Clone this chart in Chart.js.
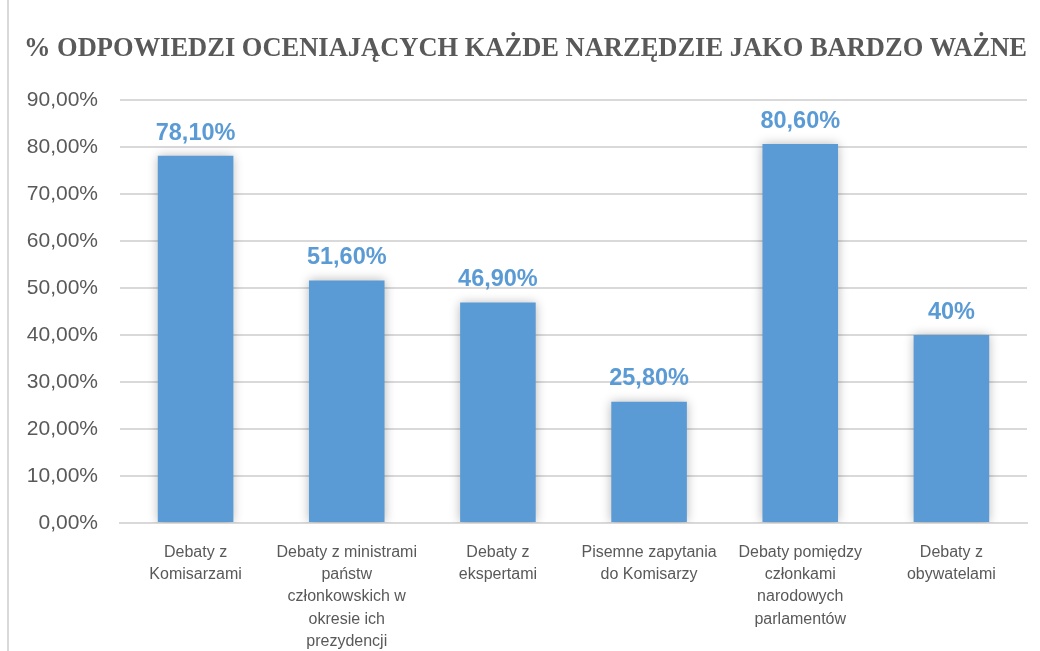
<!DOCTYPE html>
<html lang="pl">
<head>
    <meta charset="UTF-8">
    <title>% odpowiedzi oceniających każde narzędzie jako bardzo ważne</title>
    <script src="https://cdn.jsdelivr.net/npm/chart.js"></script>
    <style>
        html, body { margin: 0; padding: 0; background: #fff; }
        .wrap { position: relative; width: 1040px; height: 651px; }
        .wrap:before { content: ""; position: absolute; left: 7px; top: 0; bottom: 0; border-left: 2px solid #d9d9d9; }
        canvas { position: absolute; left: 0; top: 0; }
    </style>
</head>
<body>
    <div class="wrap"><canvas id="chart" width="1040" height="651"></canvas></div>

    <script>
        const categories = [
            ["Debaty z", "Komisarzami"],
            ["Debaty z ministrami", "państw", "członkowskich w", "okresie ich", "prezydencji"],
            ["Debaty z", "ekspertami"],
            ["Pisemne zapytania", "do Komisarzy"],
            ["Debaty pomiędzy", "członkami", "narodowych", "parlamentów"],
            ["Debaty z", "obywatelami"]
        ];
        const values = [78.1, 51.6, 46.9, 25.8, 80.6, 40];
        const valueLabels = ["78,10%", "51,60%", "46,90%", "25,80%", "80,60%", "40%"];
        const yTicks = [0, 10, 20, 30, 40, 50, 60, 70, 80, 90];

        const grey = "#595959";
        const blue = "#5b9bd5";

        // bar shadow
        const shadowPlugin = {
            id: "barShadow",
            beforeDatasetDraw(chart) {
                const ctx = chart.ctx;
                ctx.save();
                ctx.shadowColor = "rgba(0,0,0,0.28)";
                ctx.shadowBlur = 10;
                ctx.shadowOffsetX = 0;
                ctx.shadowOffsetY = 0;
            },
            afterDatasetDraw(chart) {
                chart.ctx.restore();
            }
        };

        // value labels above bars
        const labelPlugin = {
            id: "valueLabels",
            afterDatasetsDraw(chart) {
                const ctx = chart.ctx;
                ctx.save();
                ctx.font = "bold 23.5px 'Liberation Sans', Arial, sans-serif";
                ctx.fillStyle = blue;
                ctx.textAlign = "center";
                ctx.textBaseline = "bottom";
                chart.getDatasetMeta(0).data.forEach((bar, i) => {
                    ctx.fillText(valueLabels[i], bar.x, bar.y - 11);
                });
                ctx.restore();
            }
        };

        new Chart(document.getElementById("chart"), {
            type: "bar",
            data: {
                labels: categories,
                datasets: [{
                    data: values,
                    backgroundColor: blue,
                    borderWidth: 0,
                    categoryPercentage: 1,
                    barPercentage: 0.5
                }]
            },
            options: {
                responsive: false,
                animation: false,
                layout: { padding: { left: 24, right: 13, top: 0, bottom: 0 } },
                plugins: {
                    legend: { display: false },
                    tooltip: { enabled: false },
                    title: {
                        display: true,
                        text: "% ODPOWIEDZI OCENIAJĄCYCH KAŻDE NARZĘDZIE JAKO BARDZO WAŻNE",
                        color: grey,
                        font: { family: "'Liberation Serif', 'Times New Roman', serif", size: 26.6, weight: "bold" },
                        padding: { top: 33, bottom: 35 }
                    }
                },
                scales: {
                    x: {
                        grid: { display: false },
                        border: { display: true, color: "#d9d9d9", width: 2 },
                        ticks: {
                            color: grey,
                            font: { family: "'Liberation Sans', Arial, sans-serif", size: 16, lineHeight: 1.4 },
                            padding: 10,
                            maxRotation: 0,
                            autoSkip: false
                        },
                        afterFit(axis) { axis.height = 128; }
                    },
                    y: {
                        min: 0,
                        max: 90,
                        afterBuildTicks(axis) { axis.ticks = yTicks.map(v => ({ value: v })); },
                        grid: { color: "#d9d9d9", lineWidth: 2, drawTicks: false },
                        border: { display: false },
                        ticks: {
                            color: grey,
                            font: { family: "'Liberation Sans', Arial, sans-serif", size: 21 },
                            padding: 22,
                            callback: v => v.toFixed(2).replace(".", ",") + "%"
                        },
                        afterFit(axis) { axis.width = 96; }
                    }
                }
            },
            plugins: [shadowPlugin, labelPlugin]
        });
    </script>
</body>
</html>
